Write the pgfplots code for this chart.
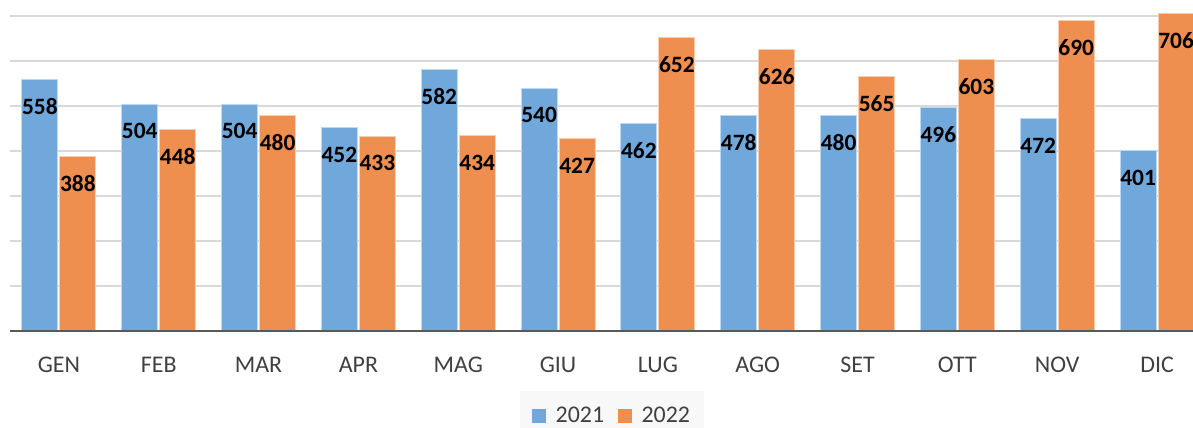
\documentclass[border=0pt]{standalone}
\usepackage{fontspec}
\setmainfont{Carlito}
\usepackage{pgfplots}
\pgfplotsset{compat=1.18}
\definecolor{cblue}{HTML}{70A8DB}
\definecolor{corange}{HTML}{EF8F4F}
\definecolor{ctick}{HTML}{404040}
\definecolor{cgrid}{HTML}{D9D9D9}
\definecolor{cbase}{HTML}{595959}
\definecolor{cleg}{HTML}{F8F8F8}
\begin{document}
\begin{tikzpicture}
\useasboundingbox (-10bp,-97bp) rectangle (1183bp,331bp);
\begin{axis}[
  at={(0,0)}, anchor=south west,
  scale only axis, width=1183bp, height=331bp,
  xmin=-0.49, xmax=11.36, ymin=0, ymax=735.6,
  ybar, bar width=36bp,
  axis line style={draw=none},
  xtick={0,...,11},
  xticklabels={GEN,FEB,MAR,APR,MAG,GIU,LUG,AGO,SET,OTT,NOV,DIC},
  xtick style={draw=none},
  ytick={100,200,...,700}, yticklabels={}, ytick style={draw=none},
  ymajorgrids, major grid style={cgrid, line width=1.5bp},
  xticklabel style={font=\fontsize{24}{28}\selectfont, text=ctick, anchor=base, yshift=-37bp},
  /pgf/number format/assume math mode=true,
  nodes near coords,
  every node near coord/.append style={font=\bfseries\fontsize{23.5}{28}\selectfont, text=black, anchor=center, yshift=-27bp},
  legend style={at={(0.509,-0.255)}, anchor=center, fill=cleg, draw=none,
    legend columns=2, font=\fontsize{24}{28}\selectfont, text=ctick,
    inner xsep=12bp, inner ysep=14bp,
    /tikz/every odd column/.append style={column sep=8bp},
    /tikz/every even column/.append style={column sep=12bp}},
]
\addlegendimage{legend image code/.code={\fill[cblue] (0bp,-6.5bp) rectangle (13bp,6.5bp);}}
\addlegendimage{legend image code/.code={\fill[corange] (0bp,-6.5bp) rectangle (13bp,6.5bp);}}
\addplot[forget plot, fill=cblue, draw=cblue!45!white, line width=1bp, bar shift=-19bp]
  coordinates {(0,558) (1,504) (2,504) (3,452) (4,582) (5,540) (6,462) (7,478) (8,480) (9,496) (10,472) (11,401)};
\addplot[forget plot, fill=corange, draw=corange!45!white, line width=1bp, bar shift=19bp]
  coordinates {(0,388) (1,448) (2,480) (3,433) (4,434) (5,427) (6,652) (7,626) (8,565) (9,603) (10,690) (11,706)};
\legend{2021,2022}
\draw[cbase, line width=3bp] (rel axis cs:0,0) -- (rel axis cs:1,0);
\end{axis}
\end{tikzpicture}
\end{document}
